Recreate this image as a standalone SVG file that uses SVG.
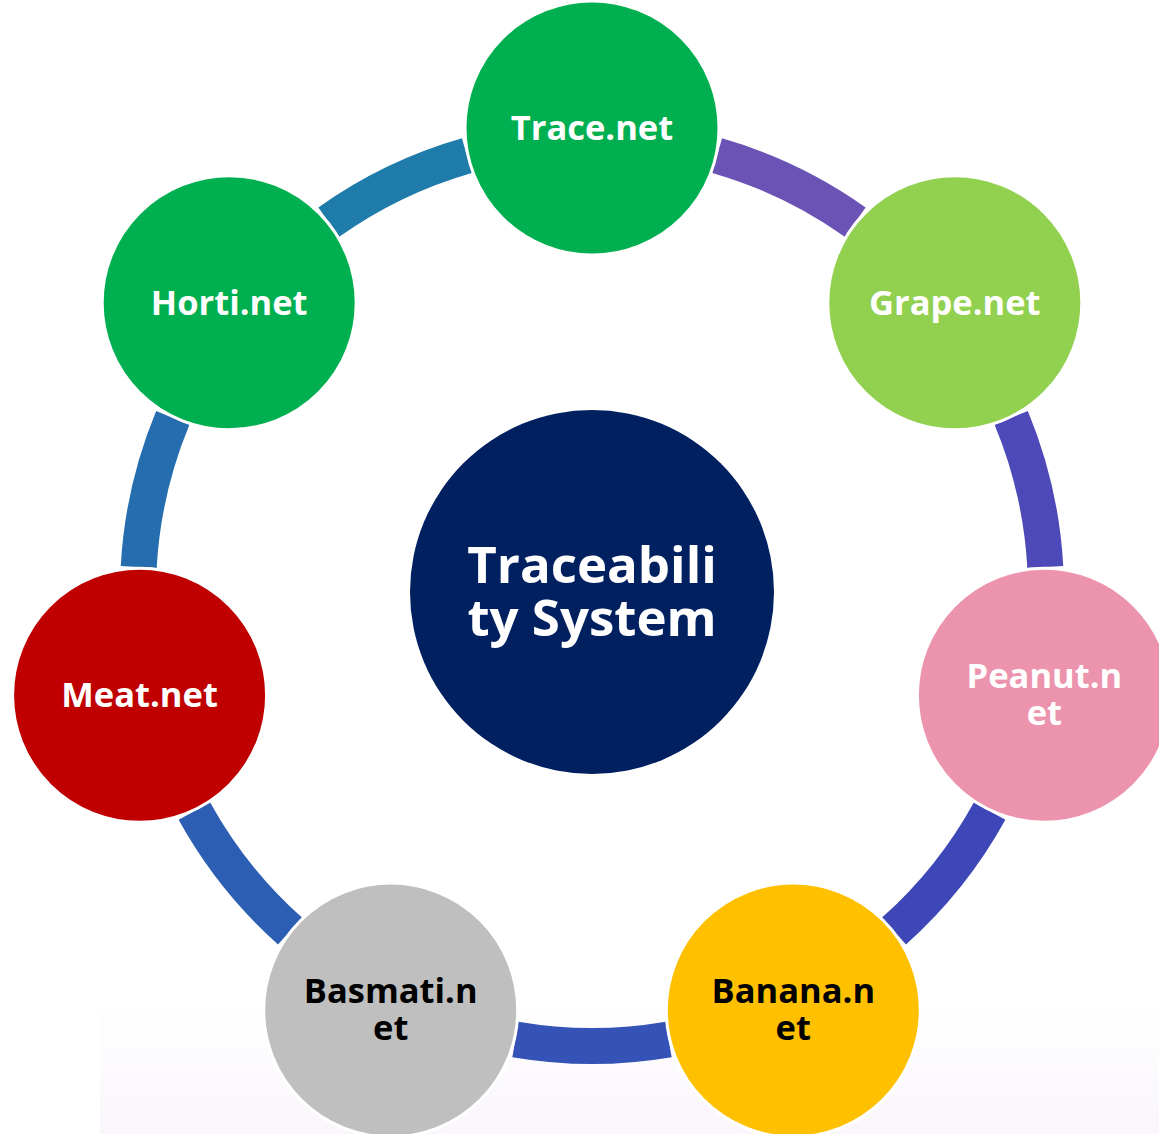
<svg xmlns="http://www.w3.org/2000/svg" width="1159" height="1134" viewBox="0 0 1159 1134">
  <defs>
    <linearGradient id="bgfade" x1="0" y1="0" x2="0" y2="1">
      <stop offset="0" stop-color="#ffffff"/>
      <stop offset="1" stop-color="#faf6fc"/>
    </linearGradient>
  </defs>
  <style>
    .arc { fill: none; stroke-width: 36; stroke-linecap: butt; }
    .node { stroke: #ffffff; stroke-width: 3; }
    .lbl { font-family: "Open Sans", "Noto Sans", "DejaVu Sans", sans-serif; font-weight: 700; font-size: 34.5px; text-anchor: middle; }
    .w { fill: #ffffff; }
    .k { fill: #000000; }
    .big { font-size: 51px; }
  </style>
  <rect x="0" y="0" width="1159" height="1134" fill="#ffffff"/>
  <rect x="100" y="1000" width="1059" height="134" fill="url(#bgfade)"/>

  <g id="connectors">
    <path class="arc" stroke="#6a53b4" d="M717.1,155.6 A454,454 0 0 1 855.2,222.1"/>
    <path class="arc" stroke="#4e49b8" d="M1011.2,417.8 A454,454 0 0 1 1045.3,567.1"/>
    <path class="arc" stroke="#3e47b8" d="M989.6,811.1 A454,454 0 0 1 894.0,931.0"/>
    <path class="arc" stroke="#3553b6" d="M668.6,1039.5 A454,454 0 0 1 515.4,1039.5"/>
    <path class="arc" stroke="#2c5fb3" d="M290.0,931.0 A454,454 0 0 1 194.4,811.1"/>
    <path class="arc" stroke="#266db0" d="M138.7,567.1 A454,454 0 0 1 172.8,417.8"/>
    <path class="arc" stroke="#1f7caa" d="M328.8,222.1 A454,454 0 0 1 466.9,155.6"/>
  </g>

  <g id="center">
    <circle cx="592" cy="592" r="182" fill="#002060"/>
    <text class="lbl big w" x="592" y="583">Traceabili</text>
    <text class="lbl big w" x="592" y="636">ty System</text>
  </g>

  <g id="trace">
    <circle class="node" cx="592" cy="128" r="127" fill="#00b050"/>
    <text class="lbl w" x="592" y="140">Trace.net</text>
  </g>
  <g id="grape">
    <circle class="node" cx="954.8" cy="302.7" r="127" fill="#92d050"/>
    <text class="lbl w" x="954.8" y="315">Grape.net</text>
  </g>
  <g id="peanut">
    <circle class="node" cx="1044.4" cy="695.2" r="127" fill="#ec93ae"/>
    <text class="lbl w" x="1044.4" y="688">Peanut.n</text>
    <text class="lbl w" x="1044.4" y="725">et</text>
  </g>
  <g id="banana">
    <circle class="node" cx="793.3" cy="1010.1" r="127" fill="#ffc000"/>
    <text class="lbl k" x="793.3" y="1003">Banana.n</text>
    <text class="lbl k" x="793.3" y="1040">et</text>
  </g>
  <g id="basmati">
    <circle class="node" cx="390.7" cy="1010.1" r="127" fill="#bfbfbf"/>
    <text class="lbl k" x="390.7" y="1003">Basmati.n</text>
    <text class="lbl k" x="390.7" y="1040">et</text>
  </g>
  <g id="meat">
    <circle class="node" cx="139.6" cy="695.2" r="127" fill="#c00000"/>
    <text class="lbl w" x="139.6" y="707">Meat.net</text>
  </g>
  <g id="horti">
    <circle class="node" cx="229.2" cy="302.7" r="127" fill="#00b050"/>
    <text class="lbl w" x="229.2" y="315">Horti.net</text>
  </g>
</svg>
